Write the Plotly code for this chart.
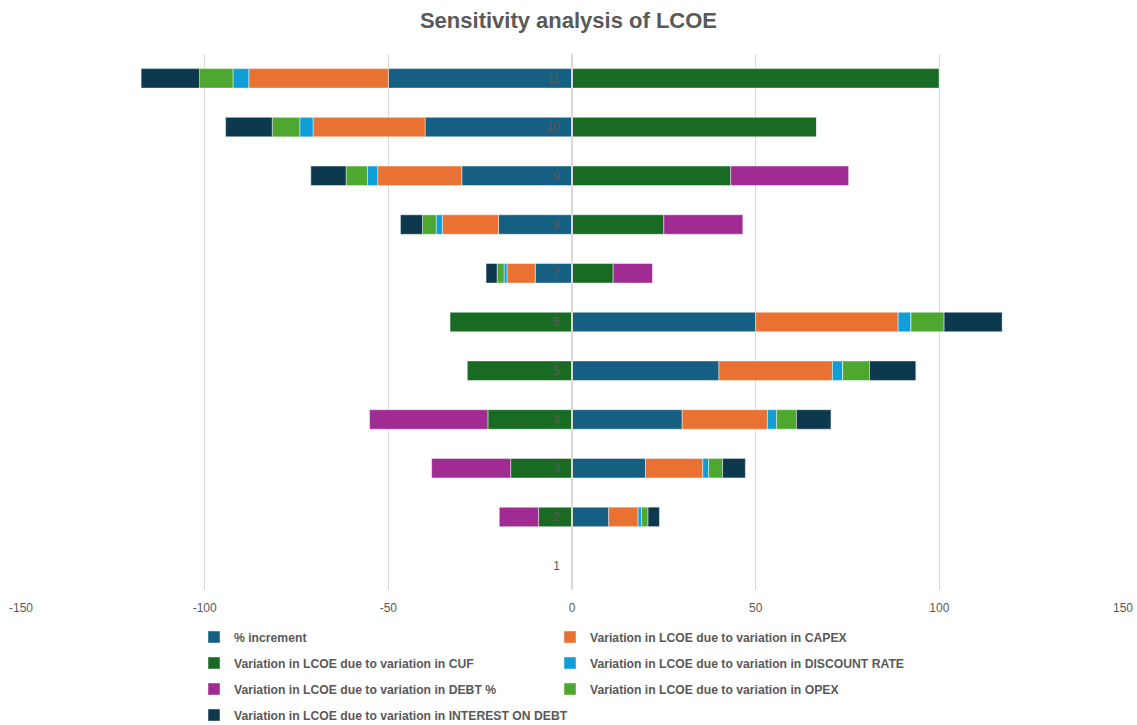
import plotly.graph_objects as go

# Sensitivity cases (category axis, bottom to top)
cases = [1, 2, 3, 4, 5, 6, 7, 8, 9, 10, 11]

# Change in LCOE (%) for each driver and case
pct_increment = [0, 10, 20, 30, 40, 50, -10, -20, -30, -40, -50]
capex = [0, 8.0, 15.6, 23.2, 30.9, 38.8, -7.7, -15.3, -22.9, -30.5, -38.0]
cuf = [0, -9.1, -16.7, -22.9, -28.5, -33.2, 11.2, 25.0, 43.2, 66.6, 100.0]
discount_rate = [0, 0.9, 1.6, 2.5, 2.8, 3.5, -0.8, -1.7, -2.8, -3.6, -4.3]
debt_pct = [0, -10.7, -21.5, -32.2, 0, 0, 10.7, 21.5, 32.1, 0, 0]
opex = [0, 1.8, 3.8, 5.4, 7.3, 9.0, -1.9, -3.7, -5.8, -7.5, -9.1]
interest_on_debt = [0, 3.1, 6.2, 9.4, 12.6, 15.8, -3.0, -6.0, -9.6, -12.7, -15.9]

# Value-axis ticks
x_ticks = [-150, -100, -50, 0, 50, 100, 150]
x_tick_labels = ["-150", "-100", "-50", "0", "50", "100", "150"]

series = [
    ("% increment", pct_increment, "#156082", "legend"),
    ("Variation in LCOE due to variation in CAPEX", capex, "#E97132", "legend"),
    ("Variation in LCOE due to variation in CUF", cuf, "#196B24", "legend2"),
    ("Variation in LCOE due to variation in DISCOUNT RATE", discount_rate, "#0F9ED5", "legend2"),
    ("Variation in LCOE due to variation in DEBT %", debt_pct, "#A02B93", "legend3"),
    ("Variation in LCOE due to variation in OPEX", opex, "#4EA72E", "legend3"),
    ("Variation in LCOE due to variation in INTEREST ON DEBT", interest_on_debt, "#0D394E", "legend4"),
]

GRAY = "#595959"
FONT = "Liberation Sans, Arial, sans-serif"

fig = go.Figure()
for name, vals, color, lg in series:
    fig.add_trace(go.Bar(
        y=cases, x=vals, name=name, orientation="h", width=0.4,
        marker=dict(color=color, line=dict(color="rgba(255,255,255,0.55)", width=0.8)),
        legend=lg,
    ))

W, H = 1137, 725
L, R, T, B = 21, 14, 54, 135
plot_h = H - T - B
plot_w = W - L - R


def legend_y(px):
    return (H - B - px) / plot_h


legend_style = dict(
    orientation="h", entrywidth=311, entrywidthmode="pixels",
    x=(194 - L) / plot_w, xanchor="left", yanchor="middle",
    font=dict(family=FONT, size=12.2, color=GRAY, weight="bold"),
    bgcolor="rgba(0,0,0,0)", itemclick=False, traceorder="normal",
)

fig.update_layout(
    width=W, height=H,
    margin=dict(l=L, r=R, t=T, b=B, autoexpand=False),
    paper_bgcolor="white", plot_bgcolor="white",
    barmode="relative",
    font=dict(family=FONT, size=12, color=GRAY),
    title=dict(text="<b>Sensitivity analysis of LCOE</b>", x=0.5, xanchor="center",
               y=1 - 20 / H, yanchor="middle",
               font=dict(family=FONT, size=22, color=GRAY)),
    xaxis=dict(range=[-150, 150], tickmode="array", tickvals=x_ticks, ticktext=x_tick_labels,
               showgrid=True, gridcolor="#D9D9D9", gridwidth=1.3, zeroline=False,
               showline=False, ticks="", ticklabelstandoff=9, automargin=False,
               tickfont=dict(size=12, color=GRAY)),
    yaxis=dict(range=[0.5, 11.5], tickmode="array", tickvals=cases,
               ticktext=[str(c) for c in cases], anchor="free", position=0.5,
               showgrid=False, zeroline=False, showline=True, linecolor="#D9D9D9",
               linewidth=1.5, ticks="", ticklabelstandoff=9, layer="above traces",
               automargin=False, tickfont=dict(size=12, color=GRAY)),
    legend=dict(legend_style, y=legend_y(637)),
    legend2=dict(legend_style, y=legend_y(663)),
    legend3=dict(legend_style, y=legend_y(689)),
    legend4=dict(legend_style, y=legend_y(715), entrywidth=420),
)

fig.write_html("out.html")
